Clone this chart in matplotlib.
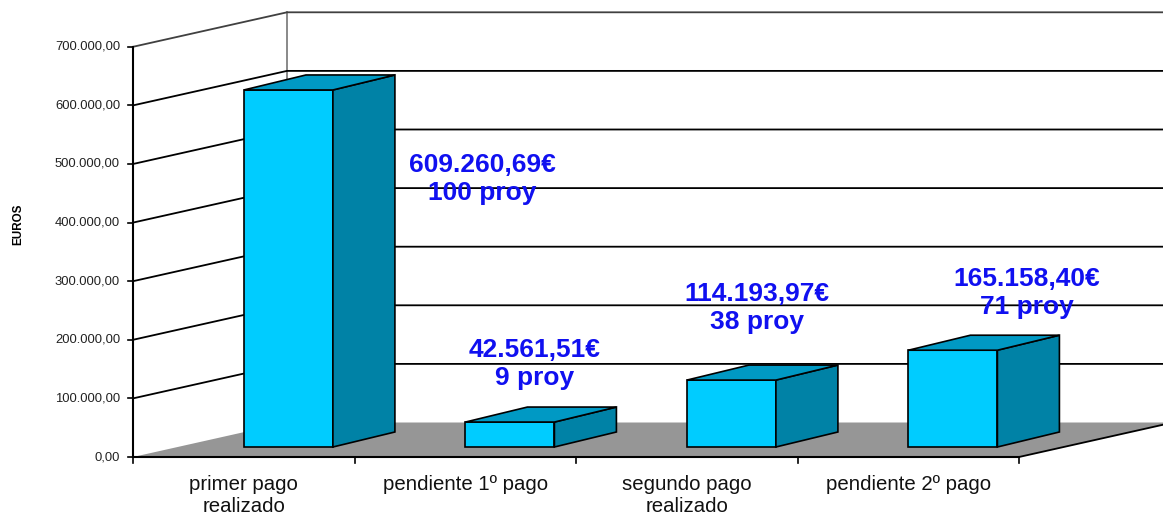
import matplotlib.pyplot as plt
from matplotlib.patches import Polygon

# data
categories = ['primer pago\nrealizado', 'pendiente 1º pago',
              'segundo pago\nrealizado', 'pendiente 2º pago']
importes = [609260.69, 42561.51, 114193.97, 165158.40]
proyectos = [100, 9, 38, 71]
y_ticks = [0, 100000, 200000, 300000, 400000, 500000, 600000, 700000]


def fmt_es(v):
    s = '{:,.2f}'.format(v)
    return s.replace(',', 'X').replace('.', ',').replace('X', '.')


# pseudo 3D layout (pixels)
W, H = 1163, 513
X0, Y0 = 133, 457          # front-left corner of floor
CW = 221.5                 # category width
SCALE = 58.6 / 100000      # px per euro
DX, DY = 154, -34.5        # wall depth
BW = 89                    # bar width
F = 0.29                   # bar front position in depth
BDX, BDY = 62, -15         # bar depth

fig = plt.figure(figsize=(W / 100, H / 100), dpi=100)
ax = fig.add_axes([0, 0, 1, 1])
ax.set_xlim(0, W)
ax.set_ylim(H, 0)
ax.axis('off')
font = 'Liberation Sans'


def yv(v):
    return Y0 - v * SCALE


x_right = X0 + len(categories) * CW

# floor
floor = Polygon([(X0, Y0), (X0 + DX, Y0 + DY), (x_right + DX, Y0 + DY), (x_right, Y0)],
                closed=True, facecolor='#969696', edgecolor='none', zorder=2)
ax.add_patch(floor)
ax.plot([x_right, x_right + DX], [Y0, Y0 + DY], color='black', lw=1.3, zorder=3)
ax.plot([X0, x_right], [Y0, Y0], color='black', lw=1.5, zorder=3)

# back wall edge
ax.plot([X0 + DX, X0 + DX], [yv(y_ticks[-1]) + DY, Y0 + DY], color='#808080', lw=1.3, zorder=1)

# gridlines
for v in y_ticks[1:]:
    ax.plot([X0, X0 + DX, W + 5], [yv(v), yv(v) + DY, yv(v) + DY],
            color='black' if v < y_ticks[-1] else '#404040', lw=1.3, zorder=1)

# y axis
ax.plot([X0, X0], [yv(0), yv(y_ticks[-1])], color='black', lw=1.5, zorder=3)
for v in y_ticks:
    ax.plot([X0 - 5, X0], [yv(v), yv(v)], color='black', lw=1.2, zorder=3)
    ax.text(X0 - 13, yv(v), fmt_es(v), ha='right', va='center',
            fontsize=9.4, family=font, color='#222222')
ax.text(18, 224, 'EUROS', rotation=90, ha='center', va='center',
        fontsize=8.4, fontweight='bold', family=font)

# x axis ticks and labels
for i in range(len(categories) + 1):
    ax.plot([X0 + i * CW, X0 + i * CW], [Y0, Y0 + 6], color='black', lw=1.2, zorder=3)
for i, c in enumerate(categories):
    ax.text(X0 + (i + 0.5) * CW, 475, c, ha='center', va='top', fontsize=14.7,
            family=font, linespacing=1.2, color='#111111')

# bars
for i, v in enumerate(importes):
    xl = X0 + i * CW + (CW - BW) / 2 + F * DX
    xr = xl + BW
    yb = Y0 + F * DY
    yt = yb - v * SCALE
    kw = dict(closed=True, edgecolor='black', lw=1.2, zorder=5)
    ax.add_patch(Polygon([(xl, yb), (xr, yb), (xr, yt), (xl, yt)], facecolor='#00ccff', **kw))
    ax.add_patch(Polygon([(xr, yb), (xr + BDX, yb + BDY), (xr + BDX, yt + BDY), (xr, yt)],
                         facecolor='#0082a6', **kw))
    ax.add_patch(Polygon([(xl, yt), (xr, yt), (xr + BDX, yt + BDY), (xl + BDX, yt + BDY)],
                         facecolor='#0099c4', **kw))

# value labels
label_pos = [(482, 179), (535, 364), (757, 308), (1027, 293)]
for (lx, ly), v, p in zip(label_pos, importes, proyectos):
    ax.text(lx, ly, fmt_es(v) + '€\n' + str(p) + ' proy', ha='center', va='center',
            fontsize=19, fontweight='bold', family=font, color='#1010f0',
            linespacing=1.25, zorder=6)

fig.savefig('out.png', dpi=100)
